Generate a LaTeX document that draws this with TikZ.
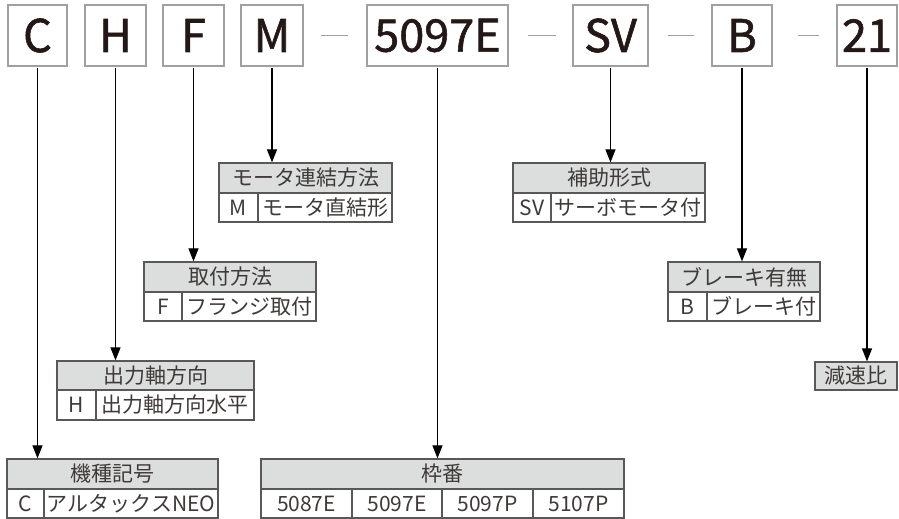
\documentclass[tikz,border=0pt]{standalone}
\usepackage{fontspec}
\setmainfont{Noto Sans CJK JP}
\newfontfamily\codefont[FakeBold=1.3]{Noto Sans CJK JP}
\usetikzlibrary{arrows.meta}
\definecolor{boxgray}{HTML}{9FA0A0}
\definecolor{tabline}{HTML}{595757}
\definecolor{hdrfill}{HTML}{DCDDDD}
\definecolor{txt}{HTML}{231815}
\definecolor{ttxt}{HTML}{3E3A39}
\begin{document}
\begin{tikzpicture}[x=1pt,y=-1pt,
 codebox/.style={draw=boxgray, line width=1.1pt, inner sep=0pt, minimum height=61pt, text=txt, font=\codefont\fontsize{45}{45}\selectfont},
 hdr/.style={draw=tabline, fill=hdrfill, line width=1.2pt, inner sep=0pt, minimum height=30pt, text=ttxt, font=\fontsize{21}{21}\selectfont},
 cell/.style={draw=tabline, fill=white, line width=1.2pt, inner sep=0pt, minimum height=29pt, text=ttxt, font=\fontsize{21}{21}\selectfont},
 arr/.style={draw=black, line width=1.1pt, -{Triangle[length=13pt,width=10pt]}, shorten <=1.5pt},
 dashln/.style={draw=boxgray, line width=0.9pt}]
\useasboundingbox (0,0) rectangle (899,519);

% top code boxes
\node[codebox, minimum width=59pt] (C) at (37.5,35.5) {C};
\node[codebox, minimum width=61pt] (H) at (115.5,35.5) {H};
\node[codebox, minimum width=61pt] (F) at (193.5,35.5) {F};
\node[codebox, minimum width=62pt] (M) at (272,35.5) {M};
\node[codebox, minimum width=141pt] (N) at (437.5,35.5) {5097E};
\node[codebox, minimum width=75pt] (SV) at (610.5,35.5) {SV};
\node[codebox, minimum width=60pt] (B) at (742,35.5) {B};
\node[codebox, minimum width=60pt] (R) at (867,35.5) {21};

\draw[dashln] ([xshift=17pt]M.east) -- ([xshift=-18pt]N.west);
\draw[dashln] ([xshift=19pt]N.east) -- ([xshift=-16pt]SV.west);
\draw[dashln] ([xshift=19pt]SV.east) -- ([xshift=-17pt]B.west);
\draw[dashln] ([xshift=25pt]B.east) -- ([xshift=-17pt]R.west);

% table: machine code
\node[hdr, minimum width=211pt] (tCh) at (112.5,474) {機種記号};
\node[cell, minimum width=37pt] (tC1) at (25.5,503.5) {C};
\node[cell, minimum width=174pt] (tC2) at (131,503.5) {アルタックスNEO};

% table: output shaft
\node[hdr, minimum width=197pt, minimum height=29pt] (tHh) at (155.5,375.5) {出力軸方向};
\node[cell, minimum width=39pt, minimum height=30pt] (tH1) at (76.5,405) {H};
\node[cell, minimum width=158pt, minimum height=30pt] (tH2) at (175,405) {出力軸方向水平};

% table: mounting
\node[hdr, minimum width=172pt] (tFh) at (230,277) {取付方法};
\node[cell, minimum width=38pt] (tF1) at (163,306.5) {F};
\node[cell, minimum width=134pt] (tF2) at (249,306.5) {フランジ取付};

% table: motor connection
\node[hdr, minimum width=173pt] (tMh) at (305.5,178) {モータ連結方法};
\node[cell, minimum width=39pt] (tM1) at (238.5,207.5) {M};
\node[cell, minimum width=134pt] (tM2) at (325,207.5) {モータ直結形};

% table: frame number
\node[hdr, minimum width=363pt] (tNh) at (442.5,474) {枠番};
\node[cell, minimum width=91pt] (tN1) at (306.5,503.5) {5087E};
\node[cell, minimum width=90pt] (tN2) at (397,503.5) {5097E};
\node[cell, minimum width=91pt] (tN3) at (487.5,503.5) {5097P};
\node[cell, minimum width=91pt] (tN4) at (578.5,503.5) {5107P};

% table: auxiliary type
\node[hdr, minimum width=192pt] (tSh) at (609,178) {補助形式};
\node[cell, minimum width=38pt] (tS1) at (532,207.5) {SV};
\node[cell, minimum width=154pt] (tS2) at (628,207.5) {サーボモータ付};

% table: brake
\node[hdr, minimum width=152pt] (tBh) at (744,277) {ブレーキ有無};
\node[cell, minimum width=39pt] (tB1) at (687.5,306.5) {B};
\node[cell, minimum width=113pt] (tB2) at (763.5,306.5) {ブレーキ付};

% reduction ratio
\node[hdr, minimum width=82pt, minimum height=28pt] (tR) at (856,376) {減速比};

% arrows
\draw[arr] (C.south) -- (C.south |- tCh.north);
\draw[arr] (H.south) -- (H.south |- tHh.north);
\draw[arr] (F.south) -- (F.south |- tFh.north);
\draw[arr] (M.south) -- (M.south |- tMh.north);
\draw[arr] (N.south) -- (N.south |- tNh.north);
\draw[arr] (SV.south) -- (SV.south |- tSh.north);
\draw[arr] (B.south) -- (B.south |- tBh.north);
\draw[arr] (R.south) -- (R.south |- tR.north);
\end{tikzpicture}
\end{document}
